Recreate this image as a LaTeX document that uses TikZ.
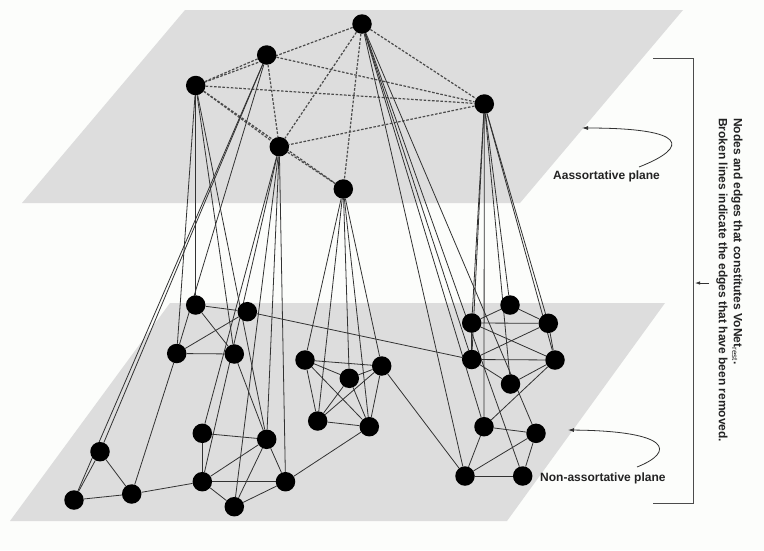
\documentclass[tikz,border=0pt]{standalone}
\usepackage{fontspec}
\setmainfont{Liberation Sans}
\usetikzlibrary{arrows.meta}
\definecolor{planegray}{RGB}{221,221,221}
\definecolor{dashgray}{RGB}{75,75,75}
\definecolor{edgegray}{RGB}{50,50,50}
\definecolor{labelgray}{RGB}{35,35,35}
\definecolor{bgcol}{RGB}{252,253,251}
\pgfdeclarelayer{bg}
\pgfdeclarelayer{edges}
\pgfsetlayers{bg,edges,main}
\begin{document}
\begin{tikzpicture}[x=1pt,y=-1pt,
  vtx/.style={circle,fill=black,inner sep=0,minimum size=19.5pt},
  plane/.style={fill=planegray,draw=none},
  rem/.style={draw=dashgray,line width=1.2pt,dash pattern=on 2.6pt off 1.6pt},
  kept/.style={draw=edgegray,line width=0.8pt},
  lbl/.style={font=\fontsize{12}{14}\selectfont\bfseries,text=labelgray,inner sep=0},
  callout/.style={draw=edgegray,line width=0.8pt,-{Latex[length=6pt,width=4pt]}},
  bracket/.style={draw=dashgray,line width=1pt}
]
\begin{pgfonlayer}{bg}
\fill[bgcol] (0,0) rectangle (764,550);
\fill[plane] (185,10) -- (683,10) -- (520,203) -- (22,203) -- cycle;
\fill[plane] (170,303) -- (665,303) -- (507,521) -- (10,521) -- cycle;
\end{pgfonlayer}
\useasboundingbox (0,0) rectangle (764,550);

% top plane nodes
\node[vtx] (t1) at (362,24) {};
\node[vtx] (t2) at (266.7,55) {};
\node[vtx] (t3) at (195.7,85.5) {};
\node[vtx] (t4) at (484.3,104) {};
\node[vtx] (t5) at (279.3,146.7) {};
\node[vtx] (t6) at (343.3,189) {};
% bottom plane nodes
\node[vtx] (a1) at (195.7,305) {};
\node[vtx] (a2) at (247.3,311.7) {};
\node[vtx] (a3) at (176.7,353.5) {};
\node[vtx] (a4) at (234.3,354) {};
\node[vtx] (b1) at (100,451.7) {};
\node[vtx] (b2) at (74,500) {};
\node[vtx] (b3) at (131.7,494) {};
\node[vtx] (c1) at (202.3,433.3) {};
\node[vtx] (c2) at (266.7,439.3) {};
\node[vtx] (c3) at (202.3,481.7) {};
\node[vtx] (c4) at (285.5,481.7) {};
\node[vtx] (c5) at (234.3,506.7) {};
\node[vtx] (d1) at (305,360) {};
\node[vtx] (d2) at (381.7,366) {};
\node[vtx] (d3) at (349.3,378.3) {};
\node[vtx] (d4) at (317.7,421) {};
\node[vtx] (d5) at (369.3,426.7) {};
\node[vtx] (e1) at (510,305) {};
\node[vtx] (e2) at (471.7,323) {};
\node[vtx] (e3) at (548.3,323.3) {};
\node[vtx] (e4) at (471.7,359.5) {};
\node[vtx] (e5) at (555,360) {};
\node[vtx] (e6) at (510.5,384) {};
\node[vtx] (f1) at (484,426.7) {};
\node[vtx] (f2) at (536,433.3) {};
\node[vtx] (f3) at (465,476) {};
\node[vtx] (f4) at (522.7,476) {};

\begin{pgfonlayer}{edges}
% removed (broken) edges among the assortative nodes
\foreach \u/\v in {t1/t3,t2/t3,t1/t4,t1/t5,t1/t6,t2/t4,t2/t5,t3/t4,t3/t5,t3/t6,t4/t5,t5/t6}
  \draw[rem] (\u) -- (\v);
% edges from the assortative plane to the non-assortative plane
\foreach \u/\v in {t3/a3,t3/a1,t3/a4,t3/c2,
                   t2/b1,t2/b2,t2/a3,
                   t5/c1,t5/c3,t5/c5,t5/c2,t5/c4,
                   t6/d1,t6/d4,t6/d3,t6/d5,t6/d2,
                   t1/f3,t1/f1,t1/e4,t1/f4,t1/f2,
                   t4/e2,t4/e4,t4/f1,t4/e6,t4/e1,t4/e3,t4/e5}
  \draw[kept] (\u) -- (\v);
% edges inside the non-assortative plane
\foreach \u/\v in {a1/a2,a1/a4,a2/a3,a3/a4,a4/c2,a3/b3,a2/e4,
                   b1/b3,b2/b3,b1/b2,
                   c1/c2,c1/c3,c2/c3,c2/c4,c2/c5,c3/c4,c3/c5,c4/c5,b3/c3,c4/d5,
                   d1/d2,d1/d3,d1/d4,d1/d5,d2/d3,d2/d4,d2/d5,d3/d4,d3/d5,d4/d5,d2/f3,
                   e1/e2,e1/e3,e2/e3,e2/e4,e3/e5,e4/e5,e2/e5,e3/e4,e4/e6,e5/e6,e5/f1,
                   f1/f2,f1/f3,f2/f3,f3/f4,f2/f4}
  \draw[kept] (\u) -- (\v);
\end{pgfonlayer}

% plane labels with curved arrows
\node[lbl,anchor=west] (la) at (553,176) {Aassortative plane};
\coordinate (lat) at (582,128);
\draw[callout] (639,167) .. controls (690,147) and (688,128) .. (lat);
\node[lbl,anchor=west] (ln) at (540,478) {Non-assortative plane};
\coordinate (lnt) at (568,430);
\draw[callout] (637,467) .. controls (675,452) and (672,431) .. (lnt);

% bracket
\coordinate (bt) at (653,58);
\coordinate (bb) at (653,503);
\draw[bracket] (bt) -- (693,58) -- (693,503) -- (bb);
\coordinate (bm) at (695,283);
\coordinate (bs) at (709,283);
\draw[draw=edgegray,line width=0.8pt,-{Latex[length=5pt,width=3.5pt]}] (bs) -- (bm);

% vertical caption
\node[lbl,rotate=-90,anchor=west] (cap1) at (737,118) {Nodes and edges that constitutes VoNet$_{\mathrm{rest}}$.};
\node[lbl,rotate=-90,anchor=west] (cap2) at (722,118) {Broken lines indicate the edges that have been removed.};
\end{tikzpicture}
\end{document}
